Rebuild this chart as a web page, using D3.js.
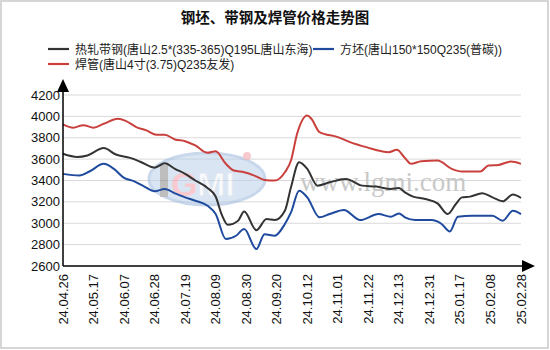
<!DOCTYPE html>
<html><head><meta charset="utf-8">
<script src="https://cdn.jsdelivr.net/npm/d3@7"></script>
<style>
html,body{margin:0;padding:0;background:#fff;}
svg{display:block;font-family:"Liberation Sans",Arial,"Noto Sans CJK SC",sans-serif;}
</style></head>
<body><svg id="c" width="550" height="350"></svg>
<script>
const title = "钢坯、带钢及焊管价格走势图";
const xLabels = ["24.04.26","24.05.17","24.06.07","24.06.28","24.07.19","24.08.09","24.08.30","24.09.20","24.10.12","24.11.01","24.11.22","24.12.13","24.12.31","25.01.17","25.02.08","25.02.28"];
const daysPerLabel = 15;
const yTicks = [2600,2800,3000,3200,3400,3600,3800,4000,4200];
const seriesNames = ["热轧带钢(唐山2.5*(335-365)Q195L唐山东海)","方坯(唐山150*150Q235(普碳))","焊管(唐山4寸(3.75)Q235友发)"];
const seriesColors = ["#333333","#1f4a9e","#c9403d"];
// [trading-day index, price]
const hotStrip = [[0,3650],[7,3620],[12,3634],[20,3703],[26,3643],[33,3612],[38,3575],[45,3520],[50,3562],[55,3509],[60,3462],[65,3400],[71,3330],[75,3250],[78,3080],[81,2985],[86,3023],[89,3110],[95,2935],[100,3039],[104,3030],[109,3117],[112,3337],[116,3571],[120,3509],[125,3352],[131,3383],[139,3415],[147,3352],[154,3343],[161,3321],[165,3330],[168,3289],[172,3249],[178,3227],[184,3186],[189,3086],[193,3180],[196,3242],[200,3249],[206,3280],[211,3242],[216,3205],[221,3268],[225,3236]];
const billet = [[0,3462],[8,3446],[13,3484],[20,3556],[25,3509],[30,3424],[35,3392],[40,3343],[45,3299],[50,3321],[55,3280],[60,3242],[65,3211],[71,3164],[75,3086],[80,2852],[85,2883],[89,2946],[95,2758],[99,2898],[104,2883],[109,2993],[112,3101],[116,3305],[120,3242],[126,3055],[131,3086],[138,3124],[146,3030],[155,3086],[161,3061],[165,3092],[168,3055],[173,3030],[181,3030],[186,2993],[190,2923],[194,3061],[201,3070],[211,3070],[216,3023],[221,3117],[225,3086]];
const weldedPipe = [[0,3925],[5,3894],[10,3918],[15,3894],[20,3931],[27,3978],[31,3956],[36,3900],[41,3869],[46,3828],[50,3828],[55,3784],[60,3768],[65,3728],[71,3659],[75,3674],[80,3556],[84,3493],[89,3477],[94,3446],[99,3405],[104,3399],[109,3477],[112,3587],[115,3837],[120,4009],[122,3978],[126,3853],[135,3806],[141,3759],[149,3712],[160,3665],[164,3687],[168,3610],[171,3556],[176,3581],[184,3587],[191,3509],[196,3484],[205,3484],[209,3540],[214,3546],[220,3577],[225,3556]];

const svg = d3.select("#c");
svg.append("rect").attr("x",1).attr("y",1).attr("width",547).attr("height",347)
  .attr("fill","#fff").attr("stroke","#d6d6d6").attr("stroke-width",2);

const L = 63, R = 521, T = 95, B = 266;
const x = d3.scaleLinear().domain([0,(xLabels.length-1)*daysPerLabel]).range([L,R]);
const y = d3.scaleLinear().domain([2600,4200]).range([B,T]);

// title
svg.append("text").attr("x",275).attr("y",23).attr("text-anchor","middle")
  .attr("font-size",14.5).attr("font-weight","bold").attr("fill","#111").text(title);

// legend
const legendPos = [[48,49],[313,49],[48,64]];
seriesNames.forEach((n,i)=>{
  const [lx,ly] = legendPos[i];
  svg.append("line").attr("x1",lx).attr("x2",lx+21).attr("y1",ly).attr("y2",ly)
    .attr("stroke",seriesColors[i]).attr("stroke-width",2.2);
  svg.append("text").attr("x",lx+27).attr("y",ly+4.5).attr("font-size",12).attr("fill","#222").text(n);
});

// grid
svg.append("g").selectAll("line").data(yTicks.filter(t=>t>2600)).join("line")
  .attr("x1",L).attr("x2",R).attr("y1",d=>y(d)).attr("y2",d=>y(d))
  .attr("stroke","#d9d9d9").attr("stroke-width",1);

// watermark
const wm = svg.append("g").attr("opacity",0.55);
wm.append("ellipse").attr("cx",207).attr("cy",179).attr("rx",58).attr("ry",26)
  .attr("fill","#bcd0ea").attr("stroke","#9db8de").attr("stroke-width",3);
wm.append("rect").attr("x",160).attr("y",165).attr("width",8).attr("height",32).attr("fill","#8a8a8a");
wm.append("text").attr("x",171).attr("y",196).attr("font-size",34).attr("font-weight","bold")
  .attr("font-family","Liberation Sans").attr("fill","#f4a0a8").text("G");
wm.append("text").attr("x",197).attr("y",196).attr("font-size",34).attr("font-weight","bold")
  .attr("font-family","Liberation Sans").attr("fill","#f4f6fa").attr("stroke","#c5d3e6").attr("stroke-width",1).text("MI");
wm.append("circle").attr("cx",247).attr("cy",156).attr("r",4).attr("fill","#f4a0a8");
svg.append("text").attr("x",300).attr("y",191).attr("font-size",27)
  .attr("font-family","Liberation Serif").attr("fill","#c8c8c8").text("www.lgmi.com");

// lines
const line = d3.line().x(d=>x(d[0])).y(d=>y(d[1])).curve(d3.curveMonotoneX);
[hotStrip,billet,weldedPipe].forEach((s,i)=>{
  svg.append("path").datum(s).attr("d",line).attr("fill","none")
    .attr("stroke",seriesColors[i]).attr("stroke-width",2).attr("stroke-linejoin","round");
});

// axes
const ax = svg.append("g");
ax.append("line").attr("x1",L).attr("x2",L).attr("y1",B).attr("y2",T-8).attr("stroke","#000").attr("stroke-width",1.5);
ax.append("path").attr("d",`M${L-6},${T-3}L${L},${T-16}L${L+6},${T-3}Z`).attr("fill","#000");
ax.append("line").attr("x1",L).attr("x2",R+6).attr("y1",B).attr("y2",B).attr("stroke","#000").attr("stroke-width",1.5);
ax.append("path").attr("d",`M${R+1},${B-6}L${R+14},${B}L${R+1},${B+6}Z`).attr("fill","#000");

// y labels
svg.append("g").selectAll("text").data(yTicks).join("text")
  .attr("x",L-3).attr("y",d=>y(d)+4.5).attr("text-anchor","end")
  .attr("font-size",13).attr("fill","#111").text(d=>d);

// x labels
svg.append("g").selectAll("text").data(xLabels).join("text")
  .attr("transform",(d,i)=>`translate(${x(i*daysPerLabel)+4.5},${B+8}) rotate(-90)`)
  .attr("text-anchor","end").attr("font-size",13).attr("fill","#111").text(d=>d);
</script></body></html>
